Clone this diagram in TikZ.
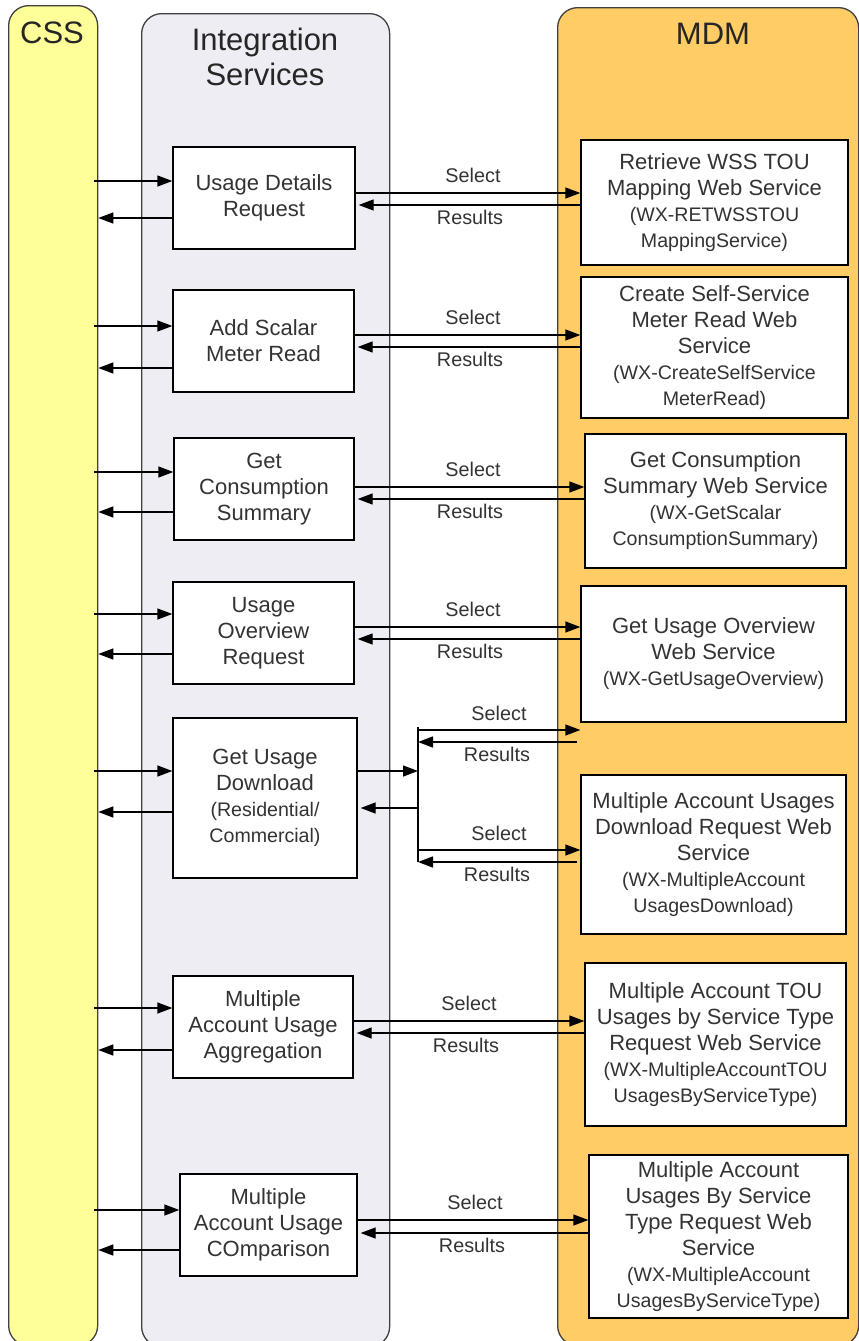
\documentclass[tikz,border=0pt]{standalone}
\usepackage{fontspec}
\setmainfont{Liberation Sans}
\usetikzlibrary{arrows.meta}
\definecolor{cssyellow}{HTML}{FFFF99}
\definecolor{intgray}{HTML}{EFEDF4}
\definecolor{mdmorange}{HTML}{FFCC66}
\definecolor{txt}{HTML}{333333}
\newcommand\bxfont{\fontsize{22}{26}\selectfont}
\newcommand\smfont{\fontsize{19.6}{25}\selectfont}
\newcommand\lbfont{\fontsize{19.8}{20}\selectfont}
\newcommand\ttlfont{\fontsize{31}{35}\selectfont}
\newcommand\sm[1]{{\smfont #1}}
\tikzset{
  lane/.style={draw=black!75, line width=1.3pt, rounded corners=20pt, anchor=north west, inner sep=0pt},
  ttl/.style={text=black!85, font=\ttlfont, align=center, inner sep=0pt},
  ibox/.style={draw=black, line width=1.3pt, fill=white, align=center, text=txt, font=\bxfont, inner sep=0pt},
  arr/.style={line width=1.3pt, -{Triangle[length=15pt,width=11pt]}},
  lbl/.style={text=txt, font=\lbfont, inner sep=0pt},
}
\begin{document}
\begin{tikzpicture}[x=1pt,y=-1pt]
\useasboundingbox (0,0) rectangle (859,1341);
% lanes
\node[lane, fill=cssyellow, minimum width=89pt, minimum height=1340pt] (css) at (8,5) {};
\node[lane, fill=intgray, minimum width=248pt, minimum height=1333pt] (ints) at (141,13) {};
\node[lane, fill=mdmorange, minimum width=301pt, minimum height=1338pt] (mdm) at (557,7) {};
\node[ttl] (cssT) at (52,33) {CSS};
\node[ttl] (intsT) at (265,57) {Integration\\Services};
\node[ttl] (mdmT) at (713,34) {MDM};
% integration boxes
\node[ibox, minimum width=182pt, minimum height=102pt] (i1) at (264,198) {Usage Details\\Request};
\node[ibox, minimum width=181pt, minimum height=102pt] (i2) at (263.5,341) {Add Scalar\\Meter Read};
\node[ibox, minimum width=180pt, minimum height=102pt] (i3) at (264,489) {Get\\Consumption\\Summary};
\node[ibox, minimum width=181pt, minimum height=102pt] (i4) at (263.5,633) {Usage\\Overview\\Request};
\node[ibox, minimum width=184pt, minimum height=160pt] (i5) at (265,798) {Get Usage\\Download\\\sm{(Residential/}\\\sm{Commercial)}};
\node[ibox, minimum width=180pt, minimum height=102pt] (i6) at (263,1027) {Multiple\\Account Usage\\Aggregation};
\node[ibox, minimum width=177pt, minimum height=102pt] (i7) at (268.5,1225) {Multiple\\Account Usage\\COmparison};
% MDM boxes
\node[ibox, minimum width=267pt, minimum height=125pt] (m1) at (714.5,202.5) {Retrieve WSS TOU\\Mapping Web Service\\\sm{(WX-RETWSSTOU}\\\sm{MappingService)}};
\node[ibox, minimum width=267pt, minimum height=141pt] (m2) at (714.5,347.5) {Create Self-Service\\Meter Read Web\\Service\\\sm{(WX-CreateSelfService}\\\sm{MeterRead)}};
\node[ibox, minimum width=261pt, minimum height=134pt] (m3) at (715.5,501) {Get Consumption\\Summary Web Service\\\sm{(WX-GetScalar}\\\sm{ConsumptionSummary)}};
\node[ibox, minimum width=265pt, minimum height=136pt] (m4) at (713.5,654) {Get Usage Overview\\Web Service\\\sm{(WX-GetUsageOverview)}};
\node[ibox, minimum width=265pt, minimum height=159pt] (m5) at (713.5,854.5) {Multiple Account Usages\\Download Request Web\\Service\\\sm{(WX-MultipleAccount}\\\sm{UsagesDownload)}};
\node[ibox, minimum width=261pt, minimum height=163pt] (m6) at (715.5,1044.5) {Multiple Account TOU\\Usages by Service Type\\Request Web Service\\\sm{(WX-MultipleAccountTOU}\\\sm{UsagesByServiceType)}};
\node[ibox, minimum width=259pt, minimum height=163pt] (m7) at (718.5,1236.5) {Multiple Account\\Usages By Service\\Type Request Web\\Service\\\sm{(WX-MultipleAccount}\\\sm{UsagesByServiceType)}};
% CSS <-> integration
\foreach \b/\yi/\yo in {i1/181/218, i2/326/368, i3/472/512, i4/614/654, i5/771/812, i6/1008/1050, i7/1210/1250}{
  \draw[arr] ([xshift=-4pt]css.east |- 0,\yi) -- (\b.west |- 0,\yi);
  \draw[arr] (\b.west |- 0,\yo) -- (css.east |- 0,\yo);
}
% integration <-> MDM
\foreach \a/\b/\ys/\yr/\xl/\n in {i1/m1/193/205/473/1, i2/m2/335/347/473/2, i3/m3/487/499/473/3, i4/m4/627/639/473/4, i6/m6/1021/1033/469/6, i7/m7/1220/1233/475/7}{
  \draw[arr] (\a.east |- 0,\ys) -- (\b.west |- 0,\ys);
  \draw[arr] (\b.west |- 0,\yr) -- ([xshift=3pt]\a.east |- 0,\yr);
  \node[lbl] (sel\n) at (\xl,\ys-18) {Select};
  \node[lbl] (res\n) at (\xl-3,\yr+12) {Results};
}
% branch for Get Usage Download
\coordinate (bt) at (418,727);
\coordinate (bb) at (418,862);
\draw[line width=1.3pt] (bt) -- (bb);
\draw[arr] (i5.east |- 0,771) -- (bt |- 0,771);
\draw[arr] (bt |- 0,808) -- ([xshift=3pt]i5.east |- 0,808);
\draw[arr] (bt |- 0,730) -- (m4.west |- 0,730);
\draw[arr] ([xshift=-3pt]m4.west |- 0,742) -- (bt |- 0,742);
\draw[arr] (bt |- 0,850) -- (m5.west |- 0,850);
\draw[arr] ([xshift=-3pt]m5.west |- 0,862) -- (bt |- 0,862);
\node[lbl] (sel5a) at (499,713) {Select};
\node[lbl] (res5a) at (497,754) {Results};
\node[lbl] (sel5b) at (499,833) {Select};
\node[lbl] (res5b) at (497,874) {Results};
\end{tikzpicture}
\end{document}
